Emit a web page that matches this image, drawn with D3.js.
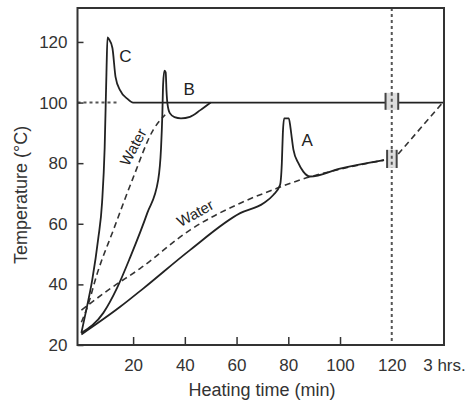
<!DOCTYPE html>
<meta charset="utf-8">
<title>Heating curves</title>
<style>
  html, body { margin: 0; padding: 0; background: #fff; }
  svg { display: block; font-family: "Liberation Sans", Arial, sans-serif; }
  .frame { fill: none; stroke: #333; stroke-width: 2px; }
  .curve { fill: none; stroke: #222; stroke-width: 1.8px; }
  .water { fill: none; stroke: #333; stroke-width: 1.6px; stroke-dasharray: 6,4; }
  .guide { fill: none; stroke: #555; stroke-width: 2px; stroke-dasharray: 3,3; }
  .tick text { font-size: 17px; fill: #333; }
  .tick line { stroke: #333; stroke-width: 1.5px; }
  .lbl { font-size: 17px; fill: #222; }
  .title { font-size: 18px; fill: #333; }
</style>
<body>
<script src="https://d3js.org/d3.v7.min.js"></script>
<script>

// data: [heating time (min), temperature (C)]
var curveC = [[0,24],[2,32],[4.2,41.5],[6.5,55],[8,67],[9,85],[9.7,110],[10.1,121.5],[10.6,121],
              [12,118],[13.2,108.5],[15,104],[17.7,101.3],[20,100],[140.2,100]];
var curveB = [[0,24],[8.5,30.6],[13.9,39],[18.9,49],[25.5,63.6],[29.7,74.5],[30.8,85],[31.3,96],
              [31.6,106],[32.1,110.5],[32.6,110],[32.9,104],[33.3,99.5],[34.2,96.5],[36,95.2],
              [38.5,94.8],[42,95.3],[46,97.5],[50,100]];
var curveA = [[0,23.5],[15,32.6],[24,38.7],[42.1,51.4],[61.4,63.5],[70.4,66.8],[74.2,69.5],[76.8,72.8],
              [77.5,80],[77.9,90],[78.4,94.8],[80.2,94.8],[80.8,92],[81.4,88],[82,84.4],[83.9,80],
              [85.8,77.2],[88.4,75.6],[100,78.2],[117,81]];
var waterFast = [[0,27.5],[2.3,32.5],[6.2,43.8],[12.4,58],[19.7,74.5],[27.8,91],[32.4,96]];
var waterSlow = [[0,31.5],[11,38.5],[22.8,45.3],[42.1,58],[61.4,66.8],[75.6,71.7],[84.6,74.5],
                 [100,78],[117,81]];
var waterSlowEnd = [[122.5,83],[140.2,100.5]];
var boil = [[-1.5,100],[14,100]];

var threeHrs = 140.2;   // where "3 hrs." sits on the broken axis
var xTicks = [20,40,60,80,100,120,threeHrs];
var yTicks = [20,40,60,80,100,120];

// labels [text, time, temp, angle]
var curveLabels = [["C",17,115.5],["B",41.7,104.5],["A",87.3,87.7]];
var waterLabels = [["Water",20,85.3,-62],["Water",44,63.5,-29]];

// axis break marks [t0, t1, T0, T1]
var breaks = [[117.6,122.5,97.6,103.2],[118.2,121.9,78.4,84.4]];

var W = 467, H = 404;
var x = d3.scaleLinear().domain([-1.5, 140.2]).range([77.5, 444]);
var y = d3.scaleLinear().domain([20, 131.2]).range([345, 8]);

var svg = d3.select("body").append("svg")
    .attr("width", W)
    .attr("height", H);

var line = d3.line()
    .x(function(d) { return x(d[0]); })
    .y(function(d) { return y(d[1]); })
    .curve(d3.curveMonotoneX);

var straight = d3.line()
    .x(function(d) { return x(d[0]); })
    .y(function(d) { return y(d[1]); });

// dotted guides
svg.append("path").attr("class", "guide").attr("d", straight(boil));
svg.append("line").attr("class", "guide")
    .attr("x1", x(120)).attr("x2", x(120))
    .attr("y1", y(131.2)).attr("y2", y(20));

// water references
svg.append("path").attr("class", "water").attr("d", line(waterFast));
svg.append("path").attr("class", "water").attr("d", line(waterSlow));
svg.append("path").attr("class", "water").attr("d", straight(waterSlowEnd));

// sample curves
[curveA, curveB, curveC].forEach(function(c) {
  svg.append("path").attr("class", "curve").attr("d", line(c));
});

// break marks
breaks.forEach(function(b) {
  var g = svg.append("g");
  g.append("rect")
      .attr("x", x(b[0])).attr("width", x(b[1]) - x(b[0]))
      .attr("y", y(b[3])).attr("height", y(b[2]) - y(b[3]))
      .attr("fill", "#ddd");
  [b[0], b[1]].forEach(function(t) {
    g.append("line")
        .attr("x1", x(t)).attr("x2", x(t))
        .attr("y1", y(b[3])).attr("y2", y(b[2]))
        .attr("stroke", "#444").attr("stroke-width", 2);
  });
  g.append("line").attr("class", "guide")
      .attr("x1", x(120)).attr("x2", x(120))
      .attr("y1", y(b[3])).attr("y2", y(b[2]));
});

// axes
svg.append("g")
    .attr("transform", "translate(0," + y(20) + ")")
    .call(d3.axisBottom(x).tickValues(xTicks).tickSize(-8).tickPadding(14)
      .tickFormat(function(d) { return d === threeHrs ? "3 hrs." : d; }))
    .call(function(g) {
      g.select(".domain").remove();
      g.selectAll(".tick").filter(function(d) { return d === threeHrs || d === 120; })
        .select("line").remove();
    });

svg.append("g")
    .attr("transform", "translate(" + x(-1.5) + ",0)")
    .call(d3.axisLeft(y).tickValues(yTicks).tickSize(-6).tickPadding(10))
    .call(function(g) { g.select(".domain").remove(); });

svg.selectAll(".tick text").attr("font-family", null).attr("font-size", null);

svg.append("rect").attr("class", "frame")
    .attr("x", x(-1.5)).attr("y", y(131.2))
    .attr("width", x(140.2) - x(-1.5)).attr("height", y(20) - y(131.2));

// curve labels
curveLabels.forEach(function(l) {
  svg.append("text").attr("class", "lbl")
      .attr("x", x(l[1])).attr("y", y(l[2]))
      .attr("text-anchor", "middle").attr("dy", "0.35em")
      .text(l[0]);
});
waterLabels.forEach(function(l) {
  svg.append("text").attr("class", "lbl")
      .attr("transform", "translate(" + x(l[1]) + "," + y(l[2]) + ") rotate(" + l[3] + ")")
      .attr("text-anchor", "middle").attr("dy", "0.35em")
      .style("font-size", "15px")
      .text(l[0]);
});

// axis titles
svg.append("text").attr("class", "title")
    .attr("x", 262).attr("y", 396)
    .attr("text-anchor", "middle")
    .text("Heating time (min)");
svg.append("text").attr("class", "title")
    .attr("transform", "translate(27,195) rotate(-90)")
    .attr("text-anchor", "middle")
    .text("Temperature (\u00B0C)");

</script>
</body>
